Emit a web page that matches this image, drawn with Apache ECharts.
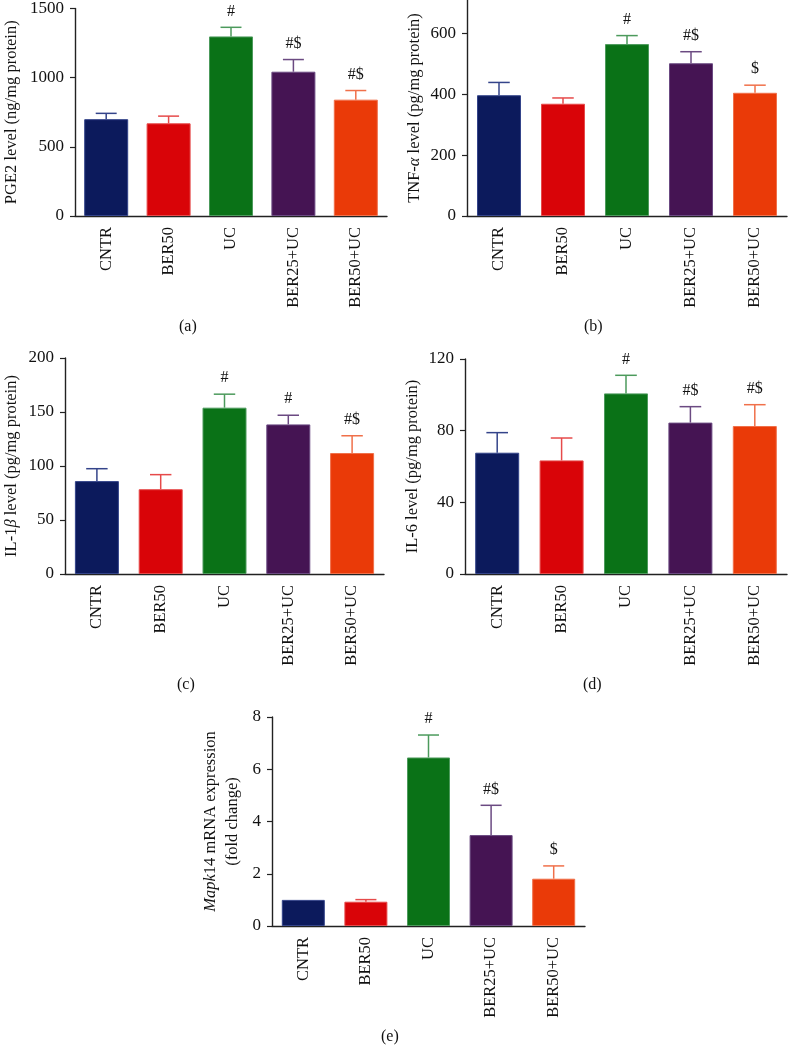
<!DOCTYPE html>
<html>
<head>
<meta charset="utf-8">
<script src="https://cdn.jsdelivr.net/npm/echarts@6/dist/echarts.min.js"></script>
<style>
html,body{margin:0;padding:0;background:#fff;}
#chart{width:789px;height:1046px;}
</style>
</head>
<body>
<div id="chart"></div>
<script>
const categories = ['CNTR', 'BER50', 'UC', 'BER25+UC', 'BER50+UC'];

const pge2Values = [700, 670, 1298, 1043, 841];
const pge2Errors = [42, 52, 66, 88, 66];
const pge2Marks = ['', '', '#', '#$', '#$'];
const pge2Ticks = { min: 0, max: 1500, interval: 500 };

const tnfValues = [397, 369, 565, 502, 405];
const tnfErrors = [42, 19, 28, 38, 25];
const tnfMarks = ['', '', '#', '#$', '$'];
const tnfTicks = { min: 0, max: 710, interval: 200 };

const il1bValues = [86, 78.5, 154, 138.5, 112];
const il1bErrors = [11.5, 13.5, 12.5, 8.5, 16];
const il1bMarks = ['', '', '#', '#', '#$'];
const il1bTicks = { min: 0, max: 200, interval: 50 };

const il6Values = [67.7, 63.4, 100.8, 84.5, 82.6];
const il6Errors = [11.2, 12.5, 10.1, 8.9, 11.9];
const il6Marks = ['', '', '#', '#$', '#$'];
const il6Ticks = { min: 0, max: 120, interval: 40 };

const mapkValues = [1.0, 0.93, 6.45, 3.48, 1.81];
const mapkErrors = [0, 0.08, 0.86, 1.14, 0.49];
const mapkMarks = ['', '', '#', '#$', '$'];
const mapkTicks = { min: 0, max: 8, interval: 2 };

const barColors = ['#0c1a5c', '#d90408', '#0a7217', '#451453', '#ea3a08'];
const errColors = ['#34448a', '#e64a4a', '#4c9a5c', '#6b4a82', '#f0704a'];

const FONT = 'Liberation Serif';

const panels = [
  { grid: { left: 70, top: 6, width: 317, height: 210 }, values: pge2Values, errors: pge2Errors, marks: pge2Marks, ticks: pge2Ticks,
    name: 'PGE2 level (ng/mg protein)', nameGap: 52, barWidth: 44, tag: '(a)', tagPos: [190, 329] },
  { grid: { left: 467, top: 0, width: 320, height: 216 }, values: tnfValues, errors: tnfErrors, marks: tnfMarks, ticks: tnfTicks,
    name: 'TNF-{i|α} level (pg/mg protein)', nameGap: 41, barWidth: 44, hideMax: true, tag: '(b)', tagPos: [595, 329] },
  { grid: { left: 61, top: 358, width: 323, height: 216 }, values: il1bValues, errors: il1bErrors, marks: il1bMarks, ticks: il1bTicks,
    name: 'IL-1{i|β} level (pg/mg protein)', nameGap: 42, barWidth: 44, tag: '(c)', tagPos: [188, 687] },
  { grid: { left: 465, top: 359, width: 322, height: 215 }, values: il6Values, errors: il6Errors, marks: il6Marks, ticks: il6Ticks,
    name: 'IL-6 level (pg/mg protein)', nameGap: 41, barWidth: 44, tag: '(d)', tagPos: [594, 687] },
  { grid: { left: 272, top: 717, width: 313, height: 209 }, values: mapkValues, errors: mapkErrors, marks: mapkMarks, ticks: mapkTicks,
    name: '{i|Mapk}14 mRNA expression\n(fold change)', nameGap: 28, barWidth: 43, tag: '(e)', tagPos: [392, 1039] }
];

const grid = [], xAxis = [], yAxis = [], series = [], graphic = [];

panels.forEach((p, gi) => {
  grid.push(Object.assign({ containLabel: false }, p.grid));
  xAxis.push({
    type: 'category', gridIndex: gi, data: categories,
    axisLine: { lineStyle: { color: '#222', width: 1.4 } },
    axisTick: { alignWithLabel: true, length: 5, lineStyle: { color: '#222', width: 1.2 } },
    axisLabel: { rotate: 90, margin: 11, color: '#111', fontFamily: FONT, fontSize: 16.5, interval: 0 }
  });
  yAxis.push({
    type: 'value', gridIndex: gi, min: p.ticks.min, max: p.ticks.max, interval: p.ticks.interval,
    splitLine: { show: false },
    axisLine: { show: true, lineStyle: { color: '#222', width: 1.4 } },
    axisTick: { show: true, length: 5, lineStyle: { color: '#222', width: 1.2 } },
    axisLabel: { margin: 11, color: '#111', fontFamily: FONT, fontSize: 17, showMaxLabel: !p.hideMax,
      formatter: v => String(v) },
    name: p.name, nameLocation: 'middle', nameGap: p.nameGap, nameRotate: 90,
    nameTextStyle: {
      color: '#111', fontFamily: FONT, fontSize: 16.5, lineHeight: 22, align: 'center',
      rich: { i: { fontStyle: 'italic', fontFamily: FONT, fontSize: 16.5, lineHeight: 22, color: '#111' } }
    }
  });
  series.push({
    type: 'bar', xAxisIndex: gi, yAxisIndex: gi, barWidth: p.barWidth,
    data: p.values.map((v, i) => ({ value: v, itemStyle: { color: barColors[i], borderColor: errColors[i], borderWidth: 1 } })),
    silent: true, animation: false
  });
  series.push({
    type: 'custom', xAxisIndex: gi, yAxisIndex: gi, animation: false, silent: true, z: 5,
    data: p.values.map((v, i) => [i, v, p.errors[i]]),
    renderItem: function (params, api) {
      const idx = api.value(0), v = api.value(1), e = api.value(2);
      const p0 = api.coord([idx, v]);
      const p1 = api.coord([idx, v + e]);
      const band = api.size([1, 0])[0];
      const half = band * 0.168;
      const c = errColors[idx];
      const children = [];
      if (e > 0) {
        children.push({ type: 'line', shape: { x1: p0[0], y1: p0[1], x2: p1[0], y2: p1[1] }, style: { stroke: c, lineWidth: 1.5 } });
        children.push({ type: 'line', shape: { x1: p1[0] - half, y1: p1[1], x2: p1[0] + half, y2: p1[1] }, style: { stroke: c, lineWidth: 1.5 } });
      }
      const mark = p.marks[idx];
      if (mark) {
        children.push({ type: 'text', style: { text: mark, x: p1[0], y: p1[1] - 8, align: 'center', verticalAlign: 'bottom',
          fill: '#111', font: '16px "' + FONT + '"' } });
      }
      return { type: 'group', children: children };
    }
  });
  graphic.push({ type: 'text', left: p.tagPos[0] - 11, top: p.tagPos[1] - 10,
    style: { text: p.tag, fill: '#111', font: '16px "' + FONT + '"' } });
});

const chart = echarts.init(document.getElementById('chart'), null, { renderer: 'canvas' });
chart.setOption({ animation: false, grid, xAxis, yAxis, series, graphic });
</script>
</body>
</html>
